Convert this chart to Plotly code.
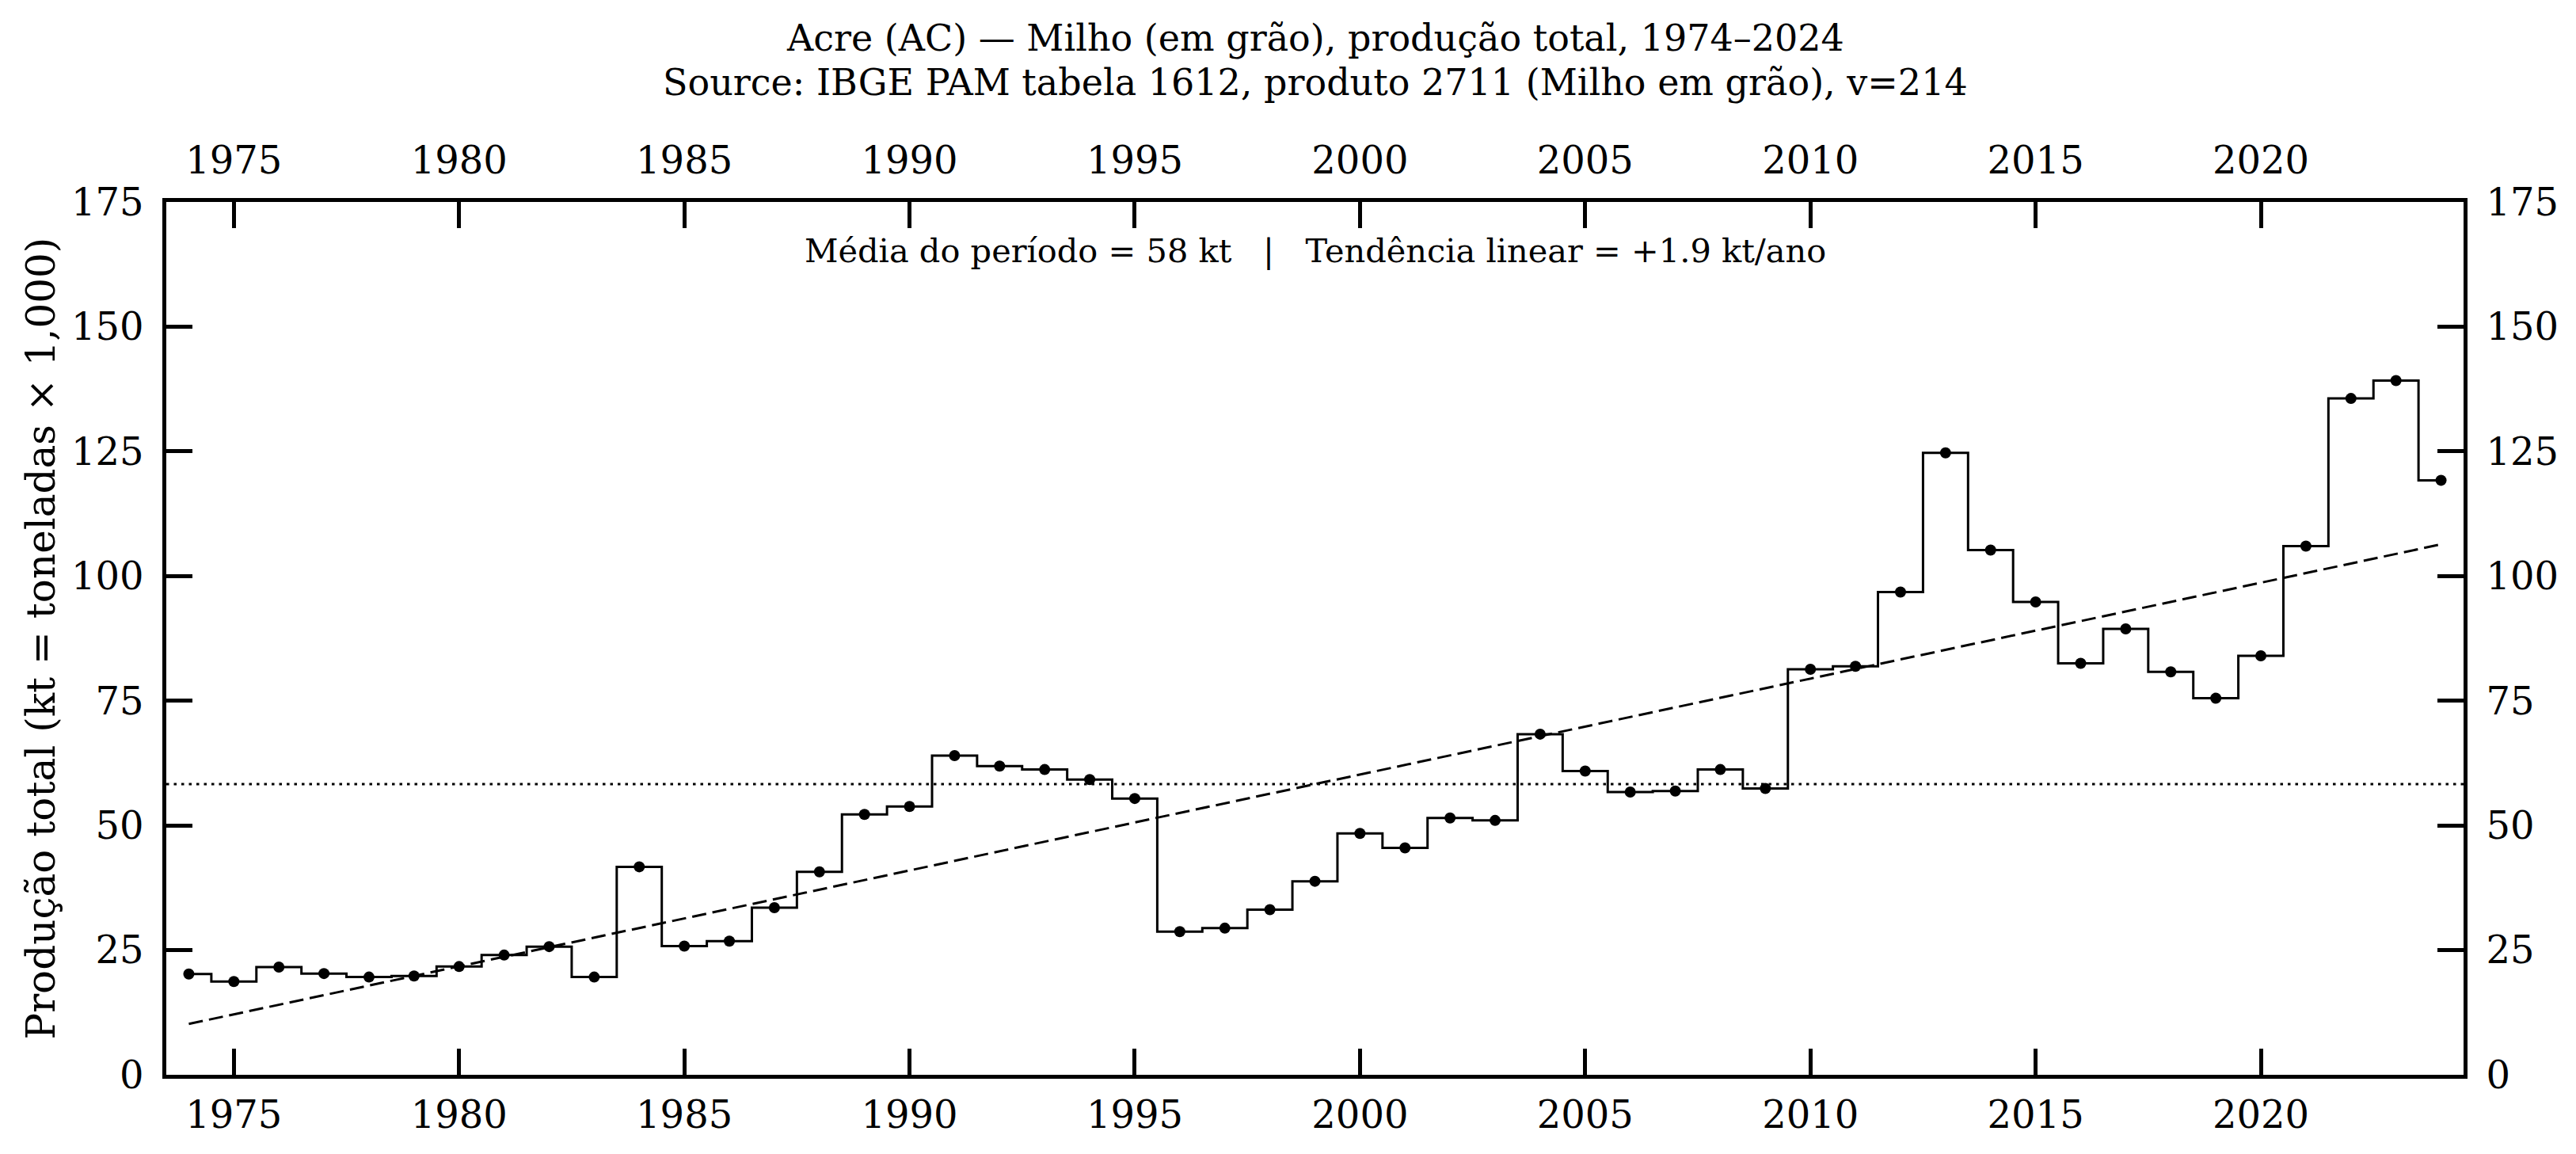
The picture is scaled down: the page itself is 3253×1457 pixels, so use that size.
import numpy as np
import plotly.graph_objects as go

# ---- data (kt = toneladas x 1,000) ----
years = list(range(1974, 2025))
production_kt = [
    20.2, 18.7, 21.6, 20.3, 19.6, 19.8, 21.7, 24.0, 25.7, 19.6,   # 1974-1983
    41.7, 25.8, 26.8, 33.5, 40.7, 52.2, 53.8, 64.0, 61.9, 61.2,   # 1984-1993
    59.2, 55.4, 28.7, 29.4, 33.1, 38.8, 48.4, 45.5, 51.5, 51.0,   # 1994-2003
    68.3, 60.9, 56.7, 56.9, 61.2, 57.4, 81.3, 81.9, 96.8, 124.7,  # 2004-2013
    105.2, 94.8, 82.5, 89.4, 80.8, 75.5, 84.0, 106.0, 135.6, 139.2, 119.2,  # 2014-2024
]
x_ticks = [1975, 1980, 1985, 1990, 1995, 2000, 2005, 2010, 2015, 2020]
y_ticks = [0, 25, 50, 75, 100, 125, 150, 175]

title_line1 = "Acre (AC) — Milho (em grão), produção total, 1974–2024"
title_line2 = "Source: IBGE PAM tabela 1612, produto 2711 (Milho em grão), v=214"
y_label = "Produção total (kt = toneladas × 1,000)"
stats_text = "Média do período = 58 kt\u00a0\u00a0\u00a0|\u00a0\u00a0\u00a0Tendência linear = +1.9 kt/ano"

# ---- derived ----
yr = np.array(years, dtype=float)
val = np.array(production_kt, dtype=float)
mean_val = float(val.mean())
slope, intercept = np.polyfit(yr, val, 1)
trend = slope * yr + intercept

FONT = "DejaVu Serif, serif"
TICK_FS = 48
LW_AX = 4.7

x_range = [1973.5, 2024.5]
y_range = [0, 175]

fig = go.Figure()

# trend line (dashed)
fig.add_trace(go.Scatter(
    x=years, y=trend, mode="lines",
    line=dict(color="black", width=3, dash="18px,8px"),
    hoverinfo="skip", showlegend=False))

# step line + markers
fig.add_trace(go.Scatter(
    x=years, y=production_kt, mode="lines+markers",
    line=dict(color="black", width=3, shape="hvh"),
    marker=dict(color="black", size=14),
    hoverinfo="skip", showlegend=False))

# helper (invisible) for top/right axes
fig.add_trace(go.Scatter(
    x=years, y=production_kt, xaxis="x2", yaxis="y2", mode="markers",
    marker=dict(opacity=0), hoverinfo="skip", showlegend=False))

# mean line (dotted)
fig.add_shape(type="line", xref="paper", x0=0, x1=1, yref="y", y0=mean_val, y1=mean_val,
              line=dict(color="black", width=3, dash="3.5px,6px"), layer="below")

axis_common = dict(
    showgrid=False, zeroline=False, showline=True, linecolor="black", linewidth=LW_AX,
    ticks="inside", ticklen=33, tickwidth=LW_AX, tickcolor="black",
    tickfont=dict(family=FONT, size=TICK_FS, color="black"),
)

fig.update_layout(
    width=3253, height=1457,
    margin=dict(l=210, r=142, t=255, b=100),
    paper_bgcolor="white", plot_bgcolor="white",
    font=dict(family=FONT, color="black"),
    xaxis=dict(range=x_range, tickmode="array", tickvals=x_ticks, side="bottom",
               ticklabelstandoff=5, **axis_common),
    yaxis=dict(range=y_range, tickmode="array", tickvals=y_ticks, side="left",
               ticklabelstandoff=14, **axis_common),
    xaxis2=dict(range=x_range, tickmode="array", tickvals=x_ticks, side="top",
                overlaying="x", anchor="y", ticklabelstandoff=12, **axis_common),
    yaxis2=dict(range=y_range, tickmode="array", tickvals=y_ticks, side="right",
                overlaying="y", anchor="x", ticklabelstandoff=14, **axis_common),
    showlegend=False,
)

fig.add_annotation(text=title_line1, xref="paper", yref="paper", x=0.5, y=1.1875,
                   xanchor="center", yanchor="middle", showarrow=False,
                   font=dict(family=FONT, size=46, color="black"))
fig.add_annotation(text=title_line2, xref="paper", yref="paper", x=0.5, y=1.1372,
                   xanchor="center", yanchor="middle", showarrow=False,
                   font=dict(family=FONT, size=46, color="black"))
fig.add_annotation(text=stats_text, xref="paper", yref="paper", x=0.5, y=0.944,
                   xanchor="center", yanchor="middle", showarrow=False,
                   font=dict(family=FONT, size=41.5, color="black"))
fig.add_annotation(text=y_label, xref="paper", yref="paper", x=-0.0543, y=0.5,
                   xanchor="center", yanchor="middle", showarrow=False, textangle=-90,
                   font=dict(family=FONT, size=50, color="black"))

fig.write_html("out.html")
